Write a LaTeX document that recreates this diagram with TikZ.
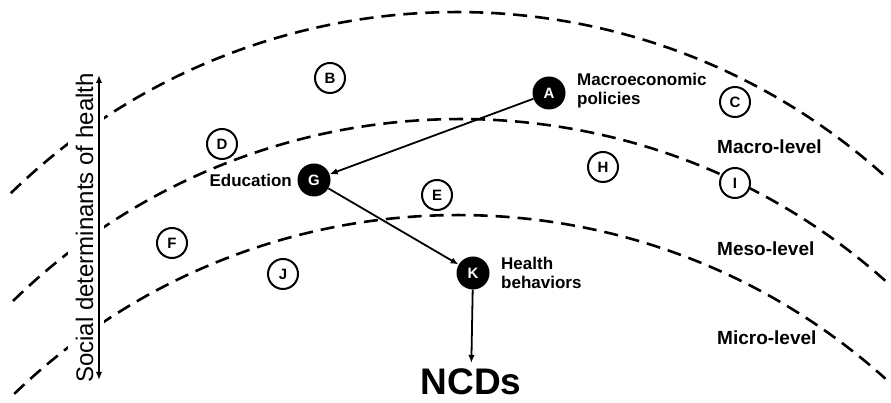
\documentclass[tikz,border=0pt]{standalone}
\usepackage{fontspec}
\setmainfont{Liberation Sans}
\usetikzlibrary{arrows.meta}
\begin{document}
\begin{tikzpicture}[x=1pt,y=1pt,
  levelarc/.style={line width=2.6pt, dash pattern=on 14pt off 8pt},
  blackdot/.style={circle, fill=black, inner sep=0pt, minimum size=33pt, text=white, font=\fontsize{15}{15}\selectfont\bfseries},
  opendot/.style={circle, draw=black, fill=white, line width=2pt, inner sep=0pt, minimum size=30pt, font=\fontsize{15}{15}\selectfont\bfseries},
  lbl/.style={font=\fontsize{17}{19}\selectfont\bfseries, align=left, inner sep=0pt},
  levellbl/.style={font=\fontsize{19}{20}\selectfont\bfseries, inner sep=0pt, anchor=west},
  link/.style={line width=1.8pt, -{Latex[length=8pt,width=6.5pt]}}
]
\useasboundingbox (0,0) rectangle (891,403);
% level arcs
\draw[levelarc] (457,-249) ++(134.2:640) arc[start angle=134.2, end angle=47.9, radius=640];
\draw[levelarc] (460,-356) ++(134.3:640) arc[start angle=134.3, end angle=48.0, radius=640];
\draw[levelarc] (458,-452) ++(133.9:640) arc[start angle=133.9, end angle=48.1, radius=640];

% white band behind the vertical label
\fill[white] (68,20) rectangle (104,332);

% vertical double arrow and label
\coordinate (sdtop) at (99,328);
\coordinate (sdbot) at (99,23);
\draw[line width=1.8pt, {Latex[length=8pt,width=6.5pt]}-{Latex[length=8pt,width=6.5pt]}] (sdbot) -- (sdtop);
\node[rotate=90, anchor=base, font=\fontsize{24}{24}\selectfont, inner sep=0pt] (sdh) at (93,175) {Social determinants of health};

% main nodes
\node[blackdot] (A) at (549,310) {A};
\node[blackdot] (G) at (314,223) {G};
\node[blackdot] (K) at (473,130) {K};

% open nodes
\node[opendot] (B) at (330,325) {B};
\node[opendot] (C) at (735,301) {C};
\node[opendot] (D) at (222,259) {D};
\node[opendot] (E) at (437,208) {E};
\node[opendot] (F) at (172,160) {F};
\node[opendot] (H) at (603,236) {H};
\node[opendot] (I) at (735,220) {I};
\node[opendot] (J) at (283,129) {J};

% labels
\node[lbl, anchor=west] (Alab) at (577,312) {Macroeconomic\\policies};
\node[lbl, anchor=east] (Glab) at (292,223) {Education};
\node[lbl, anchor=west] (Klab) at (501,130) {Health\\behaviors};
\node[levellbl] (macro) at (717,256) {Macro-level};
\node[levellbl] (meso) at (717,154) {Meso-level};
\node[levellbl] (micro) at (717,65) {Micro-level};
\node[font=\fontsize{37}{37}\selectfont\bfseries, anchor=base, inner sep=0pt] (NCD) at (471,8) {NCDs};

% connectors
\draw[link] (A) -- (G);
\draw[link] (G) -- (K);
\draw[link, shorten >=6pt] (K) -- (NCD);
\end{tikzpicture}
\end{document}
